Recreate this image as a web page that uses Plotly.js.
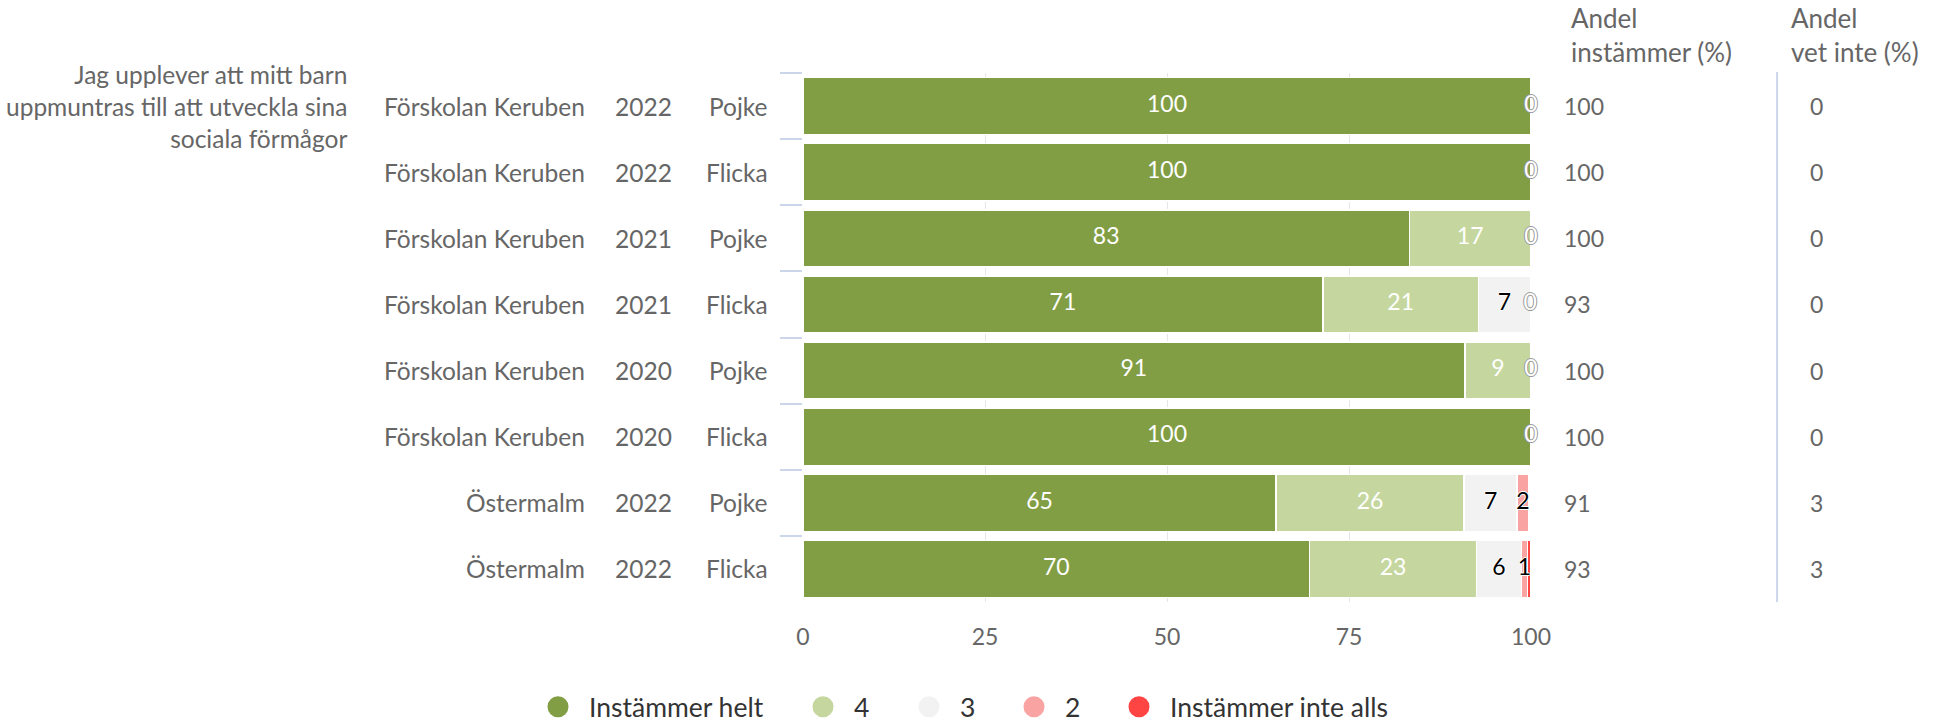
<!DOCTYPE html>
<html><head><meta charset="utf-8">
<script src="https://cdn.plot.ly/plotly-3.0.1.min.js"></script>
<style>html,body{margin:0;padding:0;background:#fff}#chart{width:1938px;height:722px}</style>
</head><body><div id="chart"></div><script>
// ---- data ----
const questionLines = ['Jag upplever att mitt barn', 'uppmuntras till att utveckla sina', 'sociala förmågor'];
const schools = ['Förskolan Keruben','Förskolan Keruben','Förskolan Keruben','Förskolan Keruben','Förskolan Keruben','Förskolan Keruben','Östermalm','Östermalm'];
const years = ['2022','2022','2021','2021','2020','2020','2022','2022'];
const genders = ['Pojke','Flicka','Pojke','Flicka','Pojke','Flicka','Pojke','Flicka'];
const seriesNames = ['Instämmer helt','4','3','2','Instämmer inte alls'];
const instammerHelt     = [100, 100, 83.3, 71.4, 90.9, 100, 65.0, 69.6];
const svar4             = [0,   0,   16.7, 21.4, 9.1,  0,   25.8, 22.9];
const svar3             = [0,   0,   0,    7.1,  0,    0,   7.3,  6.2];
const svar2             = [0,   0,   0,    0,    0,    0,   1.6,  0.8];
const instammerInteAlls = [0,   0,   0,    0,    0,    0,   0.3,  0.5];
const andelInstammer = [100, 100, 100, 93, 100, 100, 91, 93];
const andelVetInte   = [0, 0, 0, 0, 0, 0, 3, 3];
const xTickVals = [0, 25, 50, 75, 100];
const headerInstammer = ['Andel', 'instämmer (%)'];
const headerVetInte = ['Andel', 'vet inte (%)'];

// ---- styles ----
const FONT = 'Lato, "Noto Sans", sans-serif';
const GREY = '#666666';
const colors = ['#829e45', '#c5d79e', '#f2f2f2', '#f9a3a3', '#ff4444'];
const labelColors = ['#ffffff', '#ffffff', '#000000', '#000000', '#000000'];
const seriesValues = [instammerHelt, svar4, svar3, svar2, instammerInteAlls];
const keys = schools.map((s, i) => s + ' ' + years[i] + ' ' + genders[i]);

const traces = [];
seriesValues.forEach((vals, si) => {
  traces.push({
    type: 'bar', orientation: 'h', x: vals, y: keys, name: seriesNames[si],
    marker: {color: colors[si], line: {color: '#ffffff', width: 1.5}},
    showlegend: false, hoverinfo: 'skip'
  });
});

// data labels positioned from the cumulative data
const lbl = {white: {x: [], y: [], t: []}, black: {x: [], y: [], t: []}, zero: {x: [], y: [], t: []}};
keys.forEach((k, ri) => {
  let cum = 0, lastX = -100;
  seriesValues.forEach((vals, si) => {
    const v = vals[ri];
    const pos = cum + v / 2;
    cum += v;
    if (Math.abs(pos - lastX) < 2.2) return;
    lastX = pos;
    const txt = Math.round(v).toString();
    const grp = v === 0 ? lbl.zero : (labelColors[si] === '#ffffff' ? lbl.white : lbl.black);
    grp.x.push(pos); grp.y.push(k); grp.t.push(txt);
  });
});
traces.push({type: 'scatter', mode: 'text', x: lbl.white.x, y: lbl.white.y, text: lbl.white.t,
  textfont: {family: FONT, size: 23, color: '#ffffff'}, showlegend: false, hoverinfo: 'skip', cliponaxis: false});
traces.push({type: 'scatter', mode: 'text', x: lbl.black.x, y: lbl.black.y, text: lbl.black.t,
  textfont: {family: FONT, size: 23, color: '#000000', shadow: '1px 0 0 #fff, -1px 0 0 #fff, 0 1px 0 #fff, 0 -1px 0 #fff'},
  showlegend: false, hoverinfo: 'skip', cliponaxis: false});
traces.push({type: 'scatter', mode: 'text', x: lbl.zero.x, y: lbl.zero.y, text: lbl.zero.t,
  textfont: {family: FONT, size: 23, color: '#ffffff', shadow: '1px 0 0 #999, -1px 0 0 #999, 0 1px 0 #999, 0 -1px 0 #999'},
  showlegend: false, hoverinfo: 'skip', cliponaxis: false});

// legend entries (one legend per entry to match spacing)
const legendCenters = [558, 823, 929, 1034, 1139];
const legendIds = ['legend', 'legend2', 'legend3', 'legend4', 'legend5'];
seriesNames.forEach((n, si) => {
  traces.push({type: 'scatter', mode: 'markers', x: [null], y: [null], name: n, legend: legendIds[si],
    marker: {color: colors[si], size: 16, line: {color: colors[si], width: 5}}, hoverinfo: 'skip'});
});

const annotations = [];
const lf = {family: FONT, size: 24.5, color: GREY};
const nf = {family: FONT, size: 23, color: GREY};
keys.forEach((k, i) => {
  annotations.push({xref: 'paper', yref: 'y', x: -0.045, y: k, text: genders[i], showarrow: false, xanchor: 'right', font: lf});
  annotations.push({xref: 'paper', yref: 'y', x: -0.177, y: k, text: years[i], showarrow: false, xanchor: 'right', font: lf});
  annotations.push({xref: 'paper', yref: 'y', x: -0.2965, y: k, text: schools[i], showarrow: false, xanchor: 'right', font: lf});
  annotations.push({xref: 'paper', yref: 'y', x: 1.042, y: k, text: String(andelInstammer[i]), showarrow: false, xanchor: 'left', font: nf});
  annotations.push({xref: 'paper', yref: 'y', x: 1.3915, y: k, text: String(andelVetInte[i]), showarrow: false, xanchor: 'center', font: nf});
});
annotations.push({xref: 'paper', yref: 'y', x: -0.6235, y: keys[0], text: questionLines.join('<br>'), showarrow: false,
  xanchor: 'right', yanchor: 'middle', align: 'right', font: lf});
const hf = {family: FONT, size: 26, color: GREY};
[1.1040, 1.0399].forEach((yy, li) => {
  annotations.push({xref: 'paper', yref: 'paper', x: 1.0525, y: yy, text: headerInstammer[li], showarrow: false, xanchor: 'left', yanchor: 'middle', font: hf});
  annotations.push({xref: 'paper', yref: 'paper', x: 1.3545, y: yy, text: headerVetInte[li], showarrow: false, xanchor: 'left', yanchor: 'middle', font: hf});
});

const legendBase = {orientation: 'h', xref: 'container', yref: 'container', xanchor: 'left', yanchor: 'middle',
  y: 1 - 707 / 722, itemwidth: 52, font: {family: FONT, size: 26.5, color: '#333333'}, bgcolor: 'rgba(0,0,0,0)'};
const layout = {
  width: 1938, height: 722,
  margin: {l: 803, r: 407, t: 73, b: 120, autoexpand: false},
  paper_bgcolor: '#ffffff', plot_bgcolor: '#ffffff',
  font: {family: FONT, color: GREY},
  barmode: 'stack', bargap: 0.136,
  xaxis: {range: [0, 100], tickvals: xTickVals, ticktext: xTickVals.map(String), showgrid: true, gridcolor: '#e6e6e6', gridwidth: 1,
    zeroline: false, showline: false, ticks: 'outside', ticklen: 14, tickcolor: 'rgba(0,0,0,0)', automargin: false,
    tickfont: {family: FONT, size: 23, color: GREY}, fixedrange: true},
  yaxis: {type: 'category', categoryorder: 'array', categoryarray: keys, range: [keys.length - 0.5, -0.5], autorange: false,
    showticklabels: false, showgrid: false, zeroline: false, showline: false, automargin: false,
    ticks: 'outside', tickson: 'boundaries', ticklen: 22, tickwidth: 2, tickcolor: '#ccd6eb', fixedrange: true},
  shapes: [{type: 'line', xref: 'paper', yref: 'paper', x0: 1.338, x1: 1.338, y0: 0, y1: 1.002, line: {color: '#ccd6eb', width: 2}}],
  annotations: annotations,
  showlegend: true
};
legendIds.forEach((id, i) => {
  layout[id] = Object.assign({}, legendBase, {x: (legendCenters[i] - 31) / 1938});
});
Plotly.newPlot('chart', traces, layout, {displayModeBar: false, staticPlot: true});
</script></body></html>
